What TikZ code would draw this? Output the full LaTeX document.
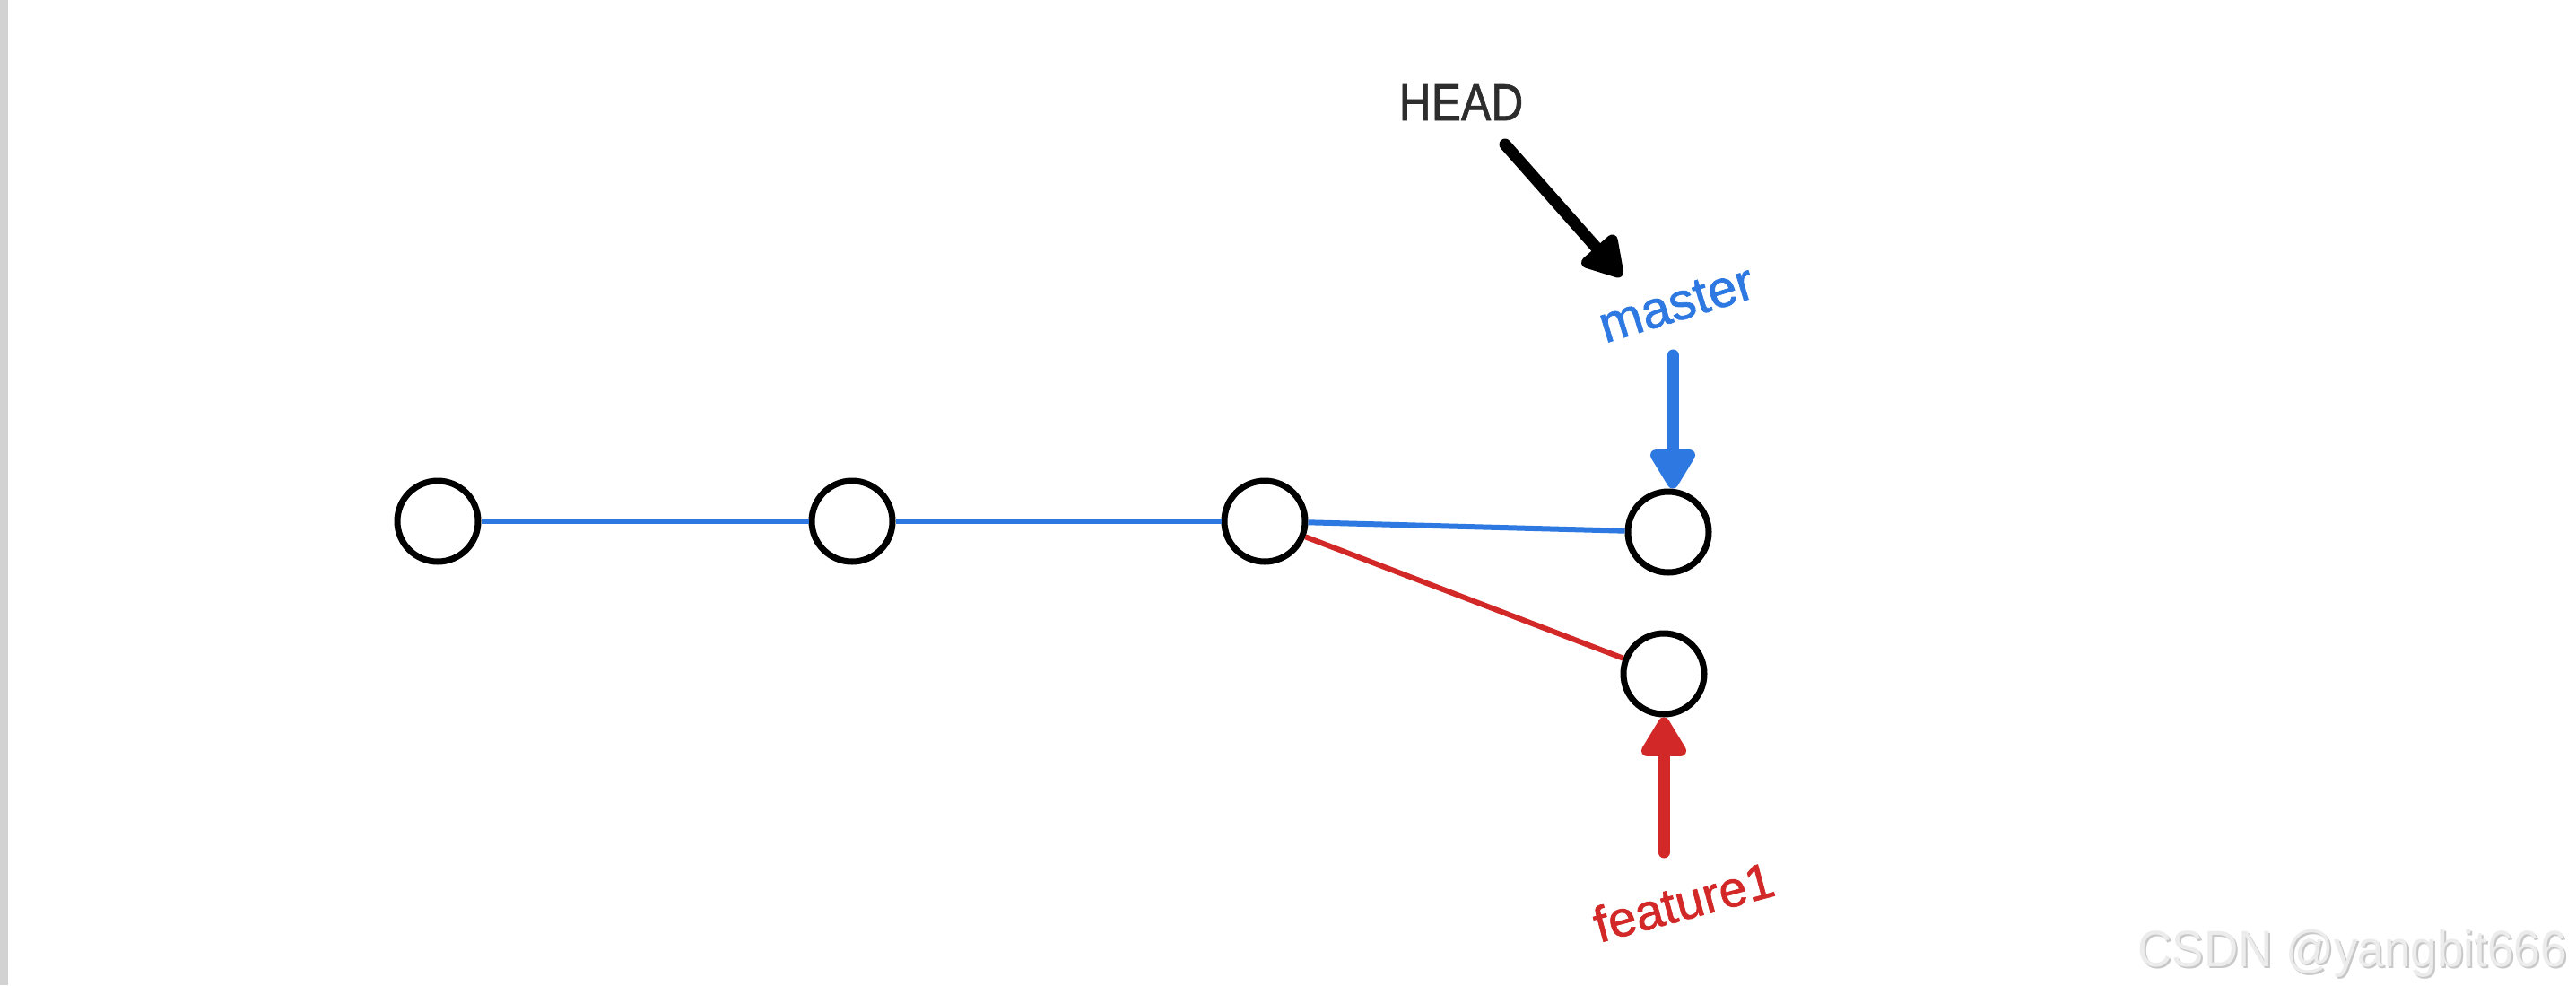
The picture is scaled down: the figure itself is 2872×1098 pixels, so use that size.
\documentclass[tikz,border=0pt]{standalone}
\usepackage{fontspec}
\setmainfont{Liberation Sans}
\newfontfamily\labfont[FakeBold=1.2]{Liberation Sans}
\usetikzlibrary{arrows.meta}
\definecolor{gitblue}{RGB}{45,120,225}
\definecolor{gitred}{RGB}{210,40,40}
\definecolor{headgray}{RGB}{45,45,45}
\definecolor{stripgray}{RGB}{210,210,210}
\definecolor{wmlight}{RGB}{236,236,236}
\definecolor{wmdark}{RGB}{200,200,200}
\begin{document}
\begin{tikzpicture}[x=1pt,y=1pt,
  commit/.style={circle,draw=black,line width=7pt,minimum size=90pt,inner sep=0pt,fill=white},
  trunk/.style={draw=gitblue,line width=6pt},
  branchline/.style={draw=gitred,line width=6pt},
  pointer/.style={line width=13pt,line cap=round,-{Triangle[width=56pt,length=50pt,round]}},
  lbl/.style={inner sep=0pt,font=\labfont\fontsize{58}{60}\selectfont},
  wm/.style={inner sep=0pt,font=\fontsize{57}{60}\selectfont,xscale=0.93,anchor=base east}]
  \useasboundingbox (0,0) rectangle (2872,-1098);
  \fill[white] (0,0) rectangle (2872,-1098);
  \fill[stripgray] (0,0) rectangle (9,-1098);

  % commits
  \node[commit] (c1) at (488,-581) {};
  \node[commit] (c2) at (950,-581) {};
  \node[commit] (c3) at (1410,-581) {};
  \node[commit] (c4) at (1860,-593) {};
  \node[commit] (c5) at (1855,-751) {};

  % history lines
  \draw[trunk] (c1) -- (c2);
  \draw[trunk] (c2) -- (c3);
  \draw[trunk] (c3) -- (c4);
  \draw[branchline] (c3) -- (c5);

  % labels
  \node[lbl,text=headgray,xscale=0.86,anchor=base] (head) at (1629,-134) {HEAD};
  \node[lbl,text=gitblue,rotate=17] (master) at (1869,-339) {master};
  \node[lbl,text=gitred,rotate=15,font=\labfont\fontsize{56}{60}\selectfont] (feature) at (1877,-1005) {feature1};

  % pointers
  \coordinate (hs) at (1678,-161);
  \coordinate (he) at (1808,-308);
  \coordinate (ms) at (1865,-396);
  \coordinate (fs) at (1855,-950);
  \draw[pointer,black] (hs) -- (he);
  \draw[pointer,gitblue] (ms) -- (ms |- c4.north);
  \draw[pointer,gitred] (fs) -- (fs |- c5.south);

  % watermark
  \node[wm,text=wmdark] (wmshadow) at (2864,-1079) {CSDN @yangbit666};
  \node[wm,text=wmlight] (wmark) at (2862,-1077) {CSDN @yangbit666};
\end{tikzpicture}
\end{document}
